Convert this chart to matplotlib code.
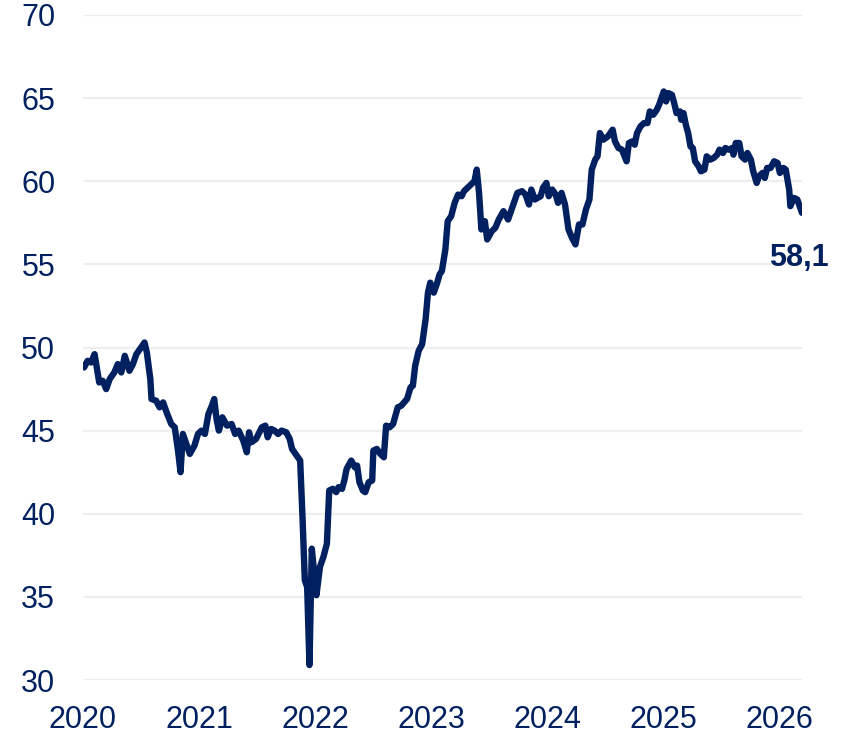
import matplotlib.pyplot as plt

# time axis in fractional years
years = [
    2020.00, 2020.01, 2020.04, 2020.07, 2020.10, 2020.14, 2020.17, 2020.20, 2020.23, 2020.27,
    2020.30, 2020.33, 2020.36, 2020.40, 2020.43, 2020.46, 2020.50, 2020.53, 2020.55, 2020.58,
    2020.59, 2020.63, 2020.66, 2020.69, 2020.72, 2020.76, 2020.79, 2020.82, 2020.84, 2020.86,
    2020.89, 2020.92, 2020.96, 2020.99, 2021.02, 2021.05, 2021.08, 2021.11, 2021.13, 2021.15,
    2021.17, 2021.20, 2021.24, 2021.28, 2021.31, 2021.34, 2021.38, 2021.41, 2021.43, 2021.45,
    2021.49, 2021.54, 2021.57, 2021.59, 2021.62, 2021.65, 2021.68, 2021.71, 2021.75, 2021.78,
    2021.80, 2021.82, 2021.87, 2021.89, 2021.91, 2021.93, 2021.95, 2021.97, 2022.01, 2022.04,
    2022.07, 2022.10, 2022.12, 2022.15, 2022.18, 2022.20, 2022.23, 2022.25, 2022.27, 2022.31,
    2022.34, 2022.36, 2022.38, 2022.41, 2022.43, 2022.46, 2022.49, 2022.50, 2022.53, 2022.56,
    2022.59, 2022.61, 2022.64, 2022.67, 2022.71, 2022.74, 2022.79, 2022.82, 2022.84, 2022.86,
    2022.89, 2022.92, 2022.95, 2022.97, 2022.99, 2023.02, 2023.05, 2023.07, 2023.09, 2023.12,
    2023.14, 2023.17, 2023.20, 2023.23, 2023.26, 2023.28, 2023.31, 2023.34, 2023.37, 2023.39,
    2023.41, 2023.43, 2023.46, 2023.48, 2023.52, 2023.55, 2023.58, 2023.62, 2023.66, 2023.71,
    2023.74, 2023.78, 2023.81, 2023.84, 2023.86, 2023.89, 2023.94, 2023.96, 2023.99, 2024.01,
    2024.04, 2024.07, 2024.09, 2024.12, 2024.15, 2024.18, 2024.21, 2024.24, 2024.27, 2024.30,
    2024.33, 2024.36, 2024.38, 2024.41, 2024.43, 2024.45, 2024.48, 2024.52, 2024.56, 2024.58,
    2024.61, 2024.64, 2024.68, 2024.70, 2024.73, 2024.75, 2024.77, 2024.80, 2024.83, 2024.86,
    2024.88, 2024.91, 2024.94, 2024.96, 2024.98, 2025.00, 2025.02, 2025.04, 2025.07, 2025.09,
    2025.11, 2025.14, 2025.15, 2025.17, 2025.19, 2025.21, 2025.23, 2025.25, 2025.27, 2025.30,
    2025.32, 2025.35, 2025.37, 2025.40, 2025.43, 2025.46, 2025.48, 2025.51, 2025.53, 2025.56,
    2025.59, 2025.60, 2025.62, 2025.65, 2025.67, 2025.70, 2025.72, 2025.75, 2025.77, 2025.80,
    2025.82, 2025.85, 2025.87, 2025.89, 2025.92, 2025.95, 2025.98, 2026.00, 2026.03, 2026.05,
    2026.08, 2026.09, 2026.12, 2026.15, 2026.18, 2026.19,
]
values = [
    48.9, 48.8, 49.2, 49.1, 49.6, 47.9, 48.0, 47.5, 48.1, 48.5,
    49.0, 48.5, 49.5, 48.6, 49.0, 49.6, 50.0, 50.3, 49.7, 48.1,
    46.9, 46.8, 46.4, 46.7, 46.1, 45.4, 45.2, 43.7, 42.5, 44.8,
    44.2, 43.6, 44.1, 44.8, 45.0, 44.8, 46.0, 46.5, 46.9, 45.7,
    45.0, 45.8, 45.3, 45.4, 44.8, 45.0, 44.4, 43.7, 44.9, 44.3,
    44.5, 45.2, 45.3, 44.6, 45.1, 45.0, 44.8, 45.0, 44.9, 44.5,
    43.9, 43.7, 43.2, 39.8, 36.0, 35.6, 30.9, 37.9, 35.1, 36.8,
    37.4, 38.2, 41.4, 41.5, 41.3, 41.6, 41.5, 42.0, 42.7, 43.2,
    42.8, 42.9, 41.9, 41.4, 41.3, 41.9, 42.0, 43.8, 43.9, 43.6,
    43.4, 45.3, 45.2, 45.4, 46.4, 46.5, 46.9, 47.6, 47.7, 48.9,
    49.8, 50.2, 51.7, 53.3, 53.9, 53.3, 53.9, 54.4, 54.6, 55.9,
    57.6, 57.9, 58.7, 59.2, 59.1, 59.4, 59.6, 59.8, 60.0, 60.7,
    59.3, 57.1, 57.6, 56.5, 57.0, 57.2, 57.7, 58.2, 57.7, 58.7,
    59.3, 59.4, 59.2, 58.6, 59.5, 58.9, 59.1, 59.6, 59.9, 59.1,
    59.5, 59.2, 58.7, 59.3, 58.6, 57.1, 56.6, 56.2, 57.4, 57.4,
    58.3, 58.9, 60.7, 61.3, 61.5, 62.9, 62.5, 62.7, 63.1, 62.4,
    62.0, 61.9, 61.2, 62.3, 62.4, 62.2, 62.9, 63.3, 63.5, 63.5,
    64.2, 64.0, 64.3, 64.6, 65.0, 65.4, 64.8, 65.3, 65.2, 64.7,
    64.1, 64.2, 63.7, 64.1, 63.4, 62.9, 62.1, 62.0, 61.2, 60.9,
    60.6, 60.7, 61.5, 61.3, 61.4, 61.6, 61.9, 61.7, 62.0, 61.9,
    62.0, 61.6, 62.3, 62.3, 61.5, 61.3, 61.7, 61.3, 60.6, 59.9,
    60.3, 60.5, 60.2, 60.8, 60.8, 61.2, 61.1, 60.5, 60.8, 60.7,
    59.5, 58.5, 59.0, 58.9, 58.3, 58.1,
]
year_ticks = [2020, 2021, 2022, 2023, 2024, 2025, 2026]
y_ticks = [30, 35, 40, 45, 50, 55, 60, 65, 70]
last_label = "58,1"

navy = "#002060"

plt.rcParams["font.family"] = ["Liberation Sans", "DejaVu Sans"]

fig = plt.figure(figsize=(8.5, 7.35), dpi=100)
ax = fig.add_axes([0.0976, 0.0748, 0.9435 - 0.0976, 0.9796 - 0.0748])

ax.plot(years, values, color=navy, lw=4.6, solid_joinstyle="round", solid_capstyle="round")

ax.set_xlim(years[0], years[-1])
ax.set_ylim(30, 70)
ax.set_xticks(year_ticks)
ax.set_xticklabels([str(y) for y in year_ticks])
ax.set_yticks(y_ticks)

ax.grid(axis="y", color="#eeeeee", lw=1.6)
ax.set_axisbelow(True)
for s in ax.spines.values():
    s.set_visible(False)
ax.tick_params(axis="both", length=0, labelsize=22, labelcolor=navy)
ax.tick_params(axis="y", pad=20)
ax.tick_params(axis="x", pad=18)

ax.annotate(last_label, xy=(years[-1], values[-1]), xytext=(-33, -45),
            textcoords="offset pixels", ha="left", va="center",
            fontsize=22, fontweight="bold", color=navy, annotation_clip=False)

fig.savefig("out.png", dpi=100)
